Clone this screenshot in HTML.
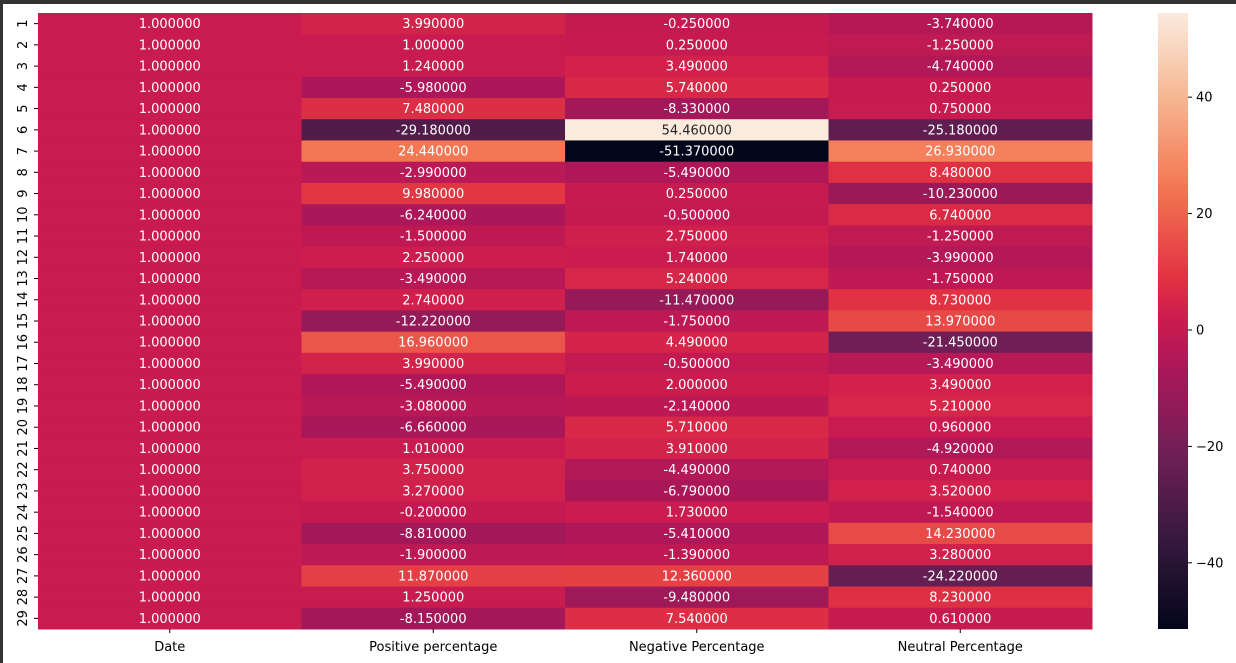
<!DOCTYPE html>
<html><head><meta charset="utf-8"><style>
html,body{margin:0;padding:0;background:#fff;}
body{width:1236px;height:663px;overflow:hidden;position:relative;font-family:"Liberation Sans","DejaVu Sans",sans-serif;}
#frameTop{position:absolute;left:0;top:0;width:1236px;height:4px;background:#333;}
#frameLeft{position:absolute;left:0;top:0;width:3px;height:663px;background:#333;}
svg{position:absolute;left:0;top:0;}
text{font-family:"DejaVu Sans","Liberation Sans",sans-serif;font-size:13px;}
</style></head><body>
<div id="frameTop"></div>
<div id="frameLeft"></div>
<svg id="chart" width="1236" height="663">
<defs><linearGradient id="cbgrad" x1="0" y1="1" x2="0" y2="0"></linearGradient></defs>
</svg>
<script>
const columns = ["Date","Positive percentage","Negative Percentage","Neutral Percentage"];
const rowLabels = ["1","2","3","4","5","6","7","8","9","10","11","12","13","14","15","16","17","18","19","20","21","22","23","24","25","26","27","28","29"];
const dateValues = [1,1,1,1,1,1,1,1,1,1,1,1,1,1,1,1,1,1,1,1,1,1,1,1,1,1,1,1,1];
const positiveValues = [3.99,1.0,1.24,-5.98,7.48,-29.18,24.44,-2.99,9.98,-6.24,-1.5,2.25,-3.49,2.74,-12.22,16.96,3.99,-5.49,-3.08,-6.66,1.01,3.75,3.27,-0.2,-8.81,-1.9,11.87,1.25,-8.15];
const negativeValues = [-0.25,0.25,3.49,5.74,-8.33,54.46,-51.37,-5.49,0.25,-0.5,2.75,1.74,5.24,-11.47,-1.75,4.49,-0.5,2.0,-2.14,5.71,3.91,-4.49,-6.79,1.73,-5.41,-1.39,12.36,-9.48,7.54];
const neutralValues = [-3.74,-1.25,-4.74,0.25,0.75,-25.18,26.93,8.48,-10.23,6.74,-1.25,-3.99,-1.75,8.73,13.97,-21.45,-3.49,3.49,5.21,0.96,-4.92,0.74,3.52,-1.54,14.23,3.28,-24.22,8.23,0.61];
const cbTicks = [-40,-20,0,20,40];

const series=[dateValues,positiveValues,negativeValues,neutralValues];
const all=series.flat();
const vmin=Math.min(...all), vmax=Math.max(...all);
const L=38,T=13,R=1092,B=629;
const cw=(R-L)/columns.length, rh=(B-T)/rowLabels.length;
const stops=[[0,"#03051a"],[1/7,"#35193e"],[2/7,"#701f57"],[3/7,"#ad1759"],[0.5,"#cb1b4f"],[4/7,"#e13342"],[5/7,"#f37651"],[6/7,"#f6b48f"],[1,"#faebdd"]];
function hex(h){return [1,3,5].map(i=>parseInt(h.substr(i,2),16));}
function cmap(t){t=Math.max(0,Math.min(1,t));for(let i=1;i<stops.length;i++){if(t<=stops[i][0]){const a=hex(stops[i-1][1]),b=hex(stops[i][1]);const f=(t-stops[i-1][0])/(stops[i][0]-stops[i-1][0]);return a.map((v,k)=>Math.round(v+(b[k]-v)*f));}}return hex(stops[stops.length-1][1]);}
function lum(c){const l=c.map(v=>{v/=255;return v<=0.03928?v/12.92:Math.pow((v+0.055)/1.055,2.4)});return 0.2126*l[0]+0.7152*l[1]+0.0722*l[2];}
const svg=document.getElementById('chart');const NS="http://www.w3.org/2000/svg";
function mk(tag,attrs,txt){const e=document.createElementNS(NS,tag);for(const k in attrs)e.setAttribute(k,attrs[k]);if(txt!==undefined)e.textContent=txt;svg.appendChild(e);return e;}
const xOf=c=>L+c*cw, yOf=r=>T+r*rh;
series.forEach((vals,c)=>{vals.forEach((v,r)=>{
  const col=cmap((v-vmin)/(vmax-vmin));
  const rect=mk('rect',{x:xOf(c),y:yOf(r),width:cw+0.5,height:rh+0.5,fill:`rgb(${col})`});
  
  
  const t=mk('text',{x:xOf(c)+cw/2,y:yOf(r)+rh/2+4.5,'text-anchor':'middle',fill:lum(col)>0.408?'#262626':'#ffffff'},v.toFixed(6));
  
  
});});
rowLabels.forEach((lab,r)=>{
  const y=yOf(r)+rh/2;
  const tk=mk('line',{x1:L-4,x2:L,y1:y,y2:y,stroke:'#000','stroke-width':1});
  
  
  const t=mk('text',{x:0,y:0,transform:`translate(27,${y}) rotate(-90)`,'text-anchor':'middle',fill:'#000'},lab);
  
  
});
columns.forEach((lab,c)=>{
  const x=xOf(c)+cw/2;
  const tk=mk('line',{x1:x,x2:x,y1:B,y2:B+4,stroke:'#000','stroke-width':1});
  
  
  const t=mk('text',{x:x,y:651,'text-anchor':'middle',fill:'#000'},lab);
  
  
});
const CL=1158,CW=30;
const g=document.getElementById('cbgrad');
for(let i=0;i<=40;i++){const s=document.createElementNS(NS,'stop');s.setAttribute('offset',i/40);s.setAttribute('stop-color',`rgb(${cmap(i/40)})`);g.appendChild(s);}
const cb=mk('rect',{x:CL,y:T,width:CW,height:B-T,fill:'url(#cbgrad)'});


const cy=v=>B-(v-vmin)/(vmax-vmin)*(B-T);
cbTicks.forEach(v=>{
  const y=cy(v);
  const tk=mk('line',{x1:CL+CW,x2:CL+CW+4,y1:y,y2:y,stroke:'#000','stroke-width':1});
  
  
  const t=mk('text',{x:CL+CW+8,y:y+4.5,fill:'#000'},v<0?'\u2212'+Math.abs(v):String(v));
  
  
});
</script>
</body></html>
